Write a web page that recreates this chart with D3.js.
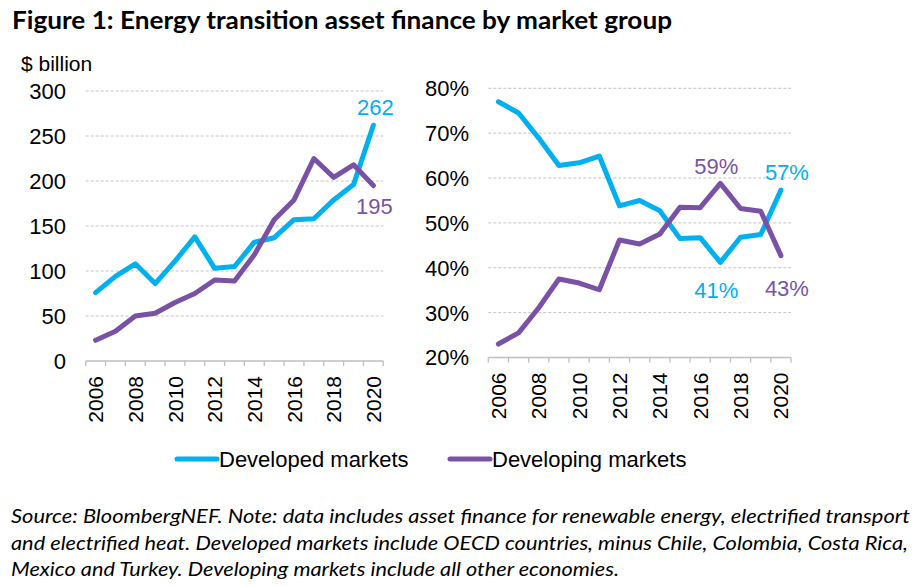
<!DOCTYPE html>
<html>
<head>
<meta charset="utf-8">
<script src="https://cdn.jsdelivr.net/npm/d3@7"></script>
<style>
  body { margin: 0; background: #fff; }
  text { font-family: "Liberation Sans", Arial, sans-serif; fill: #000; }
  .note { font-family: Lato, "Open Sans", sans-serif; font-style: italic; font-size: 19px; }
  .title { font-family: Lato, "Open Sans", sans-serif; font-weight: bold; font-size: 24px; }
</style>
</head>
<body>
<svg id="chart" width="920" height="587"></svg>
<script>
// categories
var years = [2006, 2007, 2008, 2009, 2010, 2011, 2012, 2013, 2014, 2015, 2016, 2017, 2018, 2019, 2020];
var yearLabels = [2006, 2008, 2010, 2012, 2014, 2016, 2018, 2020];

// $ billion
var developedBn = [76, 94, 108, 86, 111, 138, 103, 105, 132, 137, 157, 158, 179, 196, 262];
var developingBn = [23, 33, 50, 53, 65, 75, 90, 89, 118, 157, 179, 225, 204, 218, 195];

// share of total, %
var developedShare = [77, 74.5, 68.9, 62.8, 63.4, 64.9, 53.8, 55, 52.7, 46.5, 46.7, 41.2, 46.8, 47.4, 57.3];
var developingShare = [23, 25.5, 31.1, 37.5, 36.6, 35.1, 46.2, 45.3, 47.5, 53.5, 53.4, 58.8, 53.2, 52.6, 42.7];

var leftTicks = [0, 50, 100, 150, 200, 250, 300];
var rightTicks = [20, 30, 40, 50, 60, 70, 80];

var blue = "#00b0f0", purple = "#7a52a5";
var svg = d3.select("#chart");

svg.append("text").attr("class", "title").attr("x", 12).attr("y", 29)
  .attr("textLength", 660).attr("lengthAdjust", "spacingAndGlyphs")
  .text("Figure 1: Energy transition asset finance by market group");

svg.append("text").attr("x", 21).attr("y", 71).style("font-size", "21px").text("$ billion");

function panel(opts) {
  var x = d3.scaleBand().domain(years).range(opts.xr);
  var y = d3.scaleLinear().domain(opts.yd).range(opts.yr);
  var g = svg.append("g");

  // gridlines
  g.append("g").selectAll("line").data(opts.ticks.slice(1)).enter().append("line")
    .attr("x1", opts.xr[0]).attr("x2", opts.xr[1])
    .attr("y1", function(d) { return y(d); }).attr("y2", function(d) { return y(d); })
    .attr("stroke", "#c4c4c4").attr("stroke-width", 1).attr("stroke-dasharray", "3,2");

  // y labels
  g.append("g").selectAll("text").data(opts.ticks).enter().append("text")
    .attr("x", opts.labelX).attr("y", function(d) { return y(d); }).attr("dy", "0.36em")
    .attr("text-anchor", "end").style("font-size", "22px")
    .text(opts.fmt);

  // x axis line and boundary ticks
  var y0 = opts.yr[0];
  g.append("line").attr("x1", opts.xr[0]).attr("x2", opts.xr[1]).attr("y1", y0).attr("y2", y0)
    .attr("stroke", "#bfbfbf").attr("stroke-width", 1.3);
  var bounds = years.map(function(d) { return x(d); }).concat([x(years[years.length - 1]) + x.bandwidth()]);
  g.append("g").selectAll("line").data(bounds).enter().append("line")
    .attr("x1", function(d) { return d; }).attr("x2", function(d) { return d; })
    .attr("y1", y0).attr("y2", y0 + 5).attr("stroke", "#bfbfbf").attr("stroke-width", 1.3);

  g.append("g").selectAll("text").data(yearLabels).enter().append("text")
    .attr("transform", function(d) { return "translate(" + (x(d) + x.bandwidth() / 2) + "," + (y0 + 15) + ") rotate(-90)"; })
    .attr("dy", "0.36em").attr("text-anchor", "end").style("font-size", "21px")
    .text(function(d) { return d; });

  var line = d3.line()
    .x(function(d, i) { return x(years[i]) + x.bandwidth() / 2; })
    .y(function(d) { return y(d); });

  opts.series.forEach(function(s) {
    g.append("path").datum(s.values).attr("d", line).attr("fill", "none")
      .attr("stroke", s.color).attr("stroke-width", 5)
      .attr("stroke-linejoin", "round").attr("stroke-linecap", "round");
    s.labels.forEach(function(l) {
      var i = years.indexOf(l.year);
      g.append("text")
        .attr("x", x(l.year) + x.bandwidth() / 2 + l.dx)
        .attr("y", y(s.values[i]) + l.dy).attr("dy", "0.36em")
        .attr("text-anchor", "middle").style("font-size", "22px").style("fill", s.color)
        .text(opts.fmt(s.values[i]));
    });
  });
}

panel({
  xr: [85.7, 383.3], yd: [0, 300], yr: [361, 91], ticks: leftTicks, labelX: 66,
  fmt: function(d) { return Math.round(d); },
  series: [
    { values: developedBn, color: blue, labels: [{ year: 2020, dx: 2, dy: -18 }] },
    { values: developingBn, color: purple, labels: [{ year: 2020, dx: 1, dy: 21 }] }
  ]
});

panel({
  xr: [488.3, 791], yd: [20, 80], yr: [357.5, 88.3], ticks: rightTicks, labelX: 469,
  fmt: function(d) { return Math.round(d) + "%"; },
  series: [
    { values: developedShare, color: blue, labels: [{ year: 2017, dx: -4, dy: 28 }, { year: 2020, dx: 6, dy: -18 }] },
    { values: developingShare, color: purple, labels: [{ year: 2017, dx: -4, dy: -17 }, { year: 2020, dx: 6, dy: 32 }] }
  ]
});

// legend
var legend = [
  { name: "Developed markets", color: blue, x: 177 },
  { name: "Developing markets", color: purple, x: 450 }
];
var lg = svg.append("g").selectAll("g").data(legend).enter().append("g");
lg.append("line").attr("x1", function(d) { return d.x; }).attr("x2", function(d) { return d.x + 40; })
  .attr("y1", 459).attr("y2", 459).attr("stroke", function(d) { return d.color; })
  .attr("stroke-width", 5).attr("stroke-linecap", "round");
lg.append("text").attr("x", function(d) { return d.x + 42; }).attr("y", 459).attr("dy", "0.36em")
  .style("font-size", "22px").text(function(d) { return d.name; });

// source note
var notes = [
  { t: "Source: BloombergNEF. Note: data includes asset finance for renewable energy, electrified transport", w: 899 },
  { t: "and electrified heat. Developed markets include OECD countries, minus Chile, Colombia, Costa Rica,", w: 897 },
  { t: "Mexico and Turkey. Developing markets include all other economies.", w: 608 }
];
svg.append("g").selectAll("text").data(notes).enter().append("text").attr("class", "note")
  .attr("x", 11).attr("y", function(d, i) { return 523 + i * 26.5; })
  .attr("textLength", function(d) { return d.w; }).attr("lengthAdjust", "spacingAndGlyphs")
  .text(function(d) { return d.t; });
</script>
</body>
</html>
